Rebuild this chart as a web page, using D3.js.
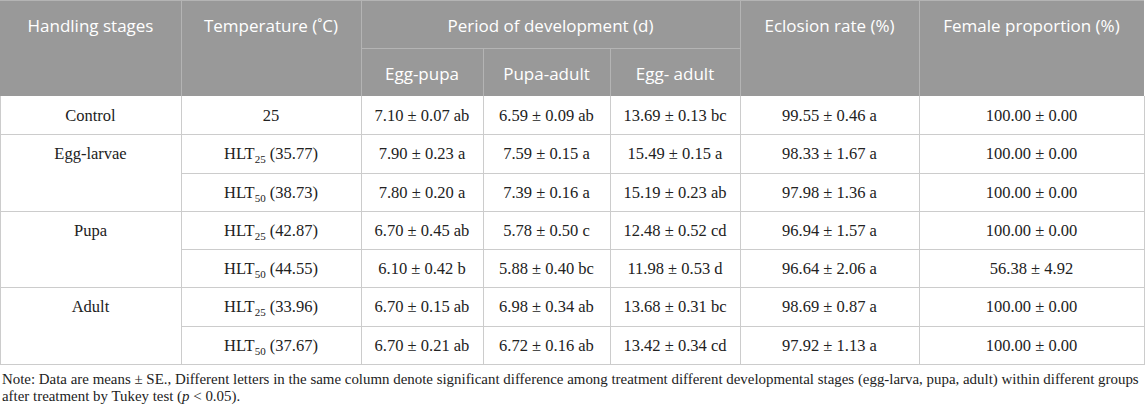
<!DOCTYPE html>
<html>
<head>
<meta charset="utf-8">
<script src="https://cdn.jsdelivr.net/npm/d3@7"></script>
<style>
  body { margin: 0; background: #fff; }
  svg { display: block; }
</style>
</head>
<body>
<div id="tbl"></div>
<script>

// table data
var stages = ['Control', 'Egg-larvae', 'Pupa', 'Adult'];
var stageRows = [1, 2, 2, 2];
var tempLevel = [null, '25', '50', '25', '50', '25', '50'];
var tempValue = [25, 35.77, 38.73, 42.87, 44.55, 33.96, 37.67];

var eggPupaMean = [7.10, 7.90, 7.80, 6.70, 6.10, 6.70, 6.70];
var eggPupaSE = [0.07, 0.23, 0.20, 0.45, 0.42, 0.15, 0.21];
var eggPupaLetter = ['ab', 'a', 'a', 'ab', 'b', 'ab', 'ab'];

var pupaAdultMean = [6.59, 7.59, 7.39, 5.78, 5.88, 6.98, 6.72];
var pupaAdultSE = [0.09, 0.15, 0.16, 0.50, 0.40, 0.34, 0.16];
var pupaAdultLetter = ['ab', 'a', 'a', 'c', 'bc', 'ab', 'ab'];

var eggAdultMean = [13.69, 15.49, 15.19, 12.48, 11.98, 13.68, 13.42];
var eggAdultSE = [0.13, 0.15, 0.23, 0.52, 0.53, 0.31, 0.34];
var eggAdultLetter = ['bc', 'a', 'ab', 'cd', 'd', 'bc', 'cd'];

var eclosionMean = [99.55, 98.33, 97.98, 96.94, 96.64, 98.69, 97.92];
var eclosionSE = [0.46, 1.67, 1.36, 1.57, 2.06, 0.87, 1.13];
var eclosionLetter = ['a', 'a', 'a', 'a', 'a', 'a', 'a'];

var femaleMean = [100.00, 100.00, 100.00, 100.00, 56.38, 100.00, 100.00];
var femaleSE = [0.00, 0.00, 0.00, 0.00, 4.92, 0.00, 0.00];

var headLabels = ['Handling stages', 'Temperature (\u02DAC)', 'Period of development (d)', 'Eclosion rate (%)', 'Female proportion (%)'];
var subLabels = ['Egg-pupa', 'Pupa-adult', 'Egg- adult'];

var noteLines = [
	'Note: Data are means \u00B1 SE., Different letters in the same column denote significant difference among treatment different developmental stages (egg-larva, pupa, adult) within different groups',
	'after treatment by Tukey test (|p| < 0.05).'
];

var width = 1145;
var height = 411;
var colEdges = [0, 181, 361, 483, 610, 740, 919, 1144];
var headTop = 0, headMid = 48, headBottom = 96, bodyBottom = 364;
var headFill = '#999999';
var headLine = '#b4b4b4';
var bodyLine = '#cccccc';

var svg = d3.select('#tbl').append('svg')
	.attr('width', width)
	.attr('height', height);

var y = d3.scaleBand().domain(d3.range(tempValue.length)).range([headBottom, bodyBottom]);

function cx(i) { return (colEdges[i] + colEdges[i + 1]) / 2; }

// header background
svg.append('rect')
	.attr('x', colEdges[0]).attr('y', headTop)
	.attr('width', colEdges[7] - colEdges[0]).attr('height', headBottom - headTop)
	.style('fill', headFill);

// header lines
var hv = [1, 2, 5, 6];
hv.forEach(function(c) {
	svg.append('line')
		.attr('x1', colEdges[c] + 0.5).attr('x2', colEdges[c] + 0.5)
		.attr('y1', headTop).attr('y2', headBottom)
		.style('stroke', headLine);
});
[3, 4].forEach(function(c) {
	svg.append('line')
		.attr('x1', colEdges[c] + 0.5).attr('x2', colEdges[c] + 0.5)
		.attr('y1', headMid).attr('y2', headBottom)
		.style('stroke', headLine);
});
svg.append('line')
	.attr('x1', colEdges[2]).attr('x2', colEdges[5])
	.attr('y1', headMid + 0.5).attr('y2', headMid + 0.5)
	.style('stroke', headLine);
svg.append('line')
	.attr('x1', 0).attr('x2', colEdges[7])
	.attr('y1', headTop + 0.5).attr('y2', headTop + 0.5)
	.style('stroke', headLine);

// header text
var headFont = '"Open Sans", "Noto Sans", sans-serif';
var headX = [cx(0), cx(1), (colEdges[2] + colEdges[5]) / 2, cx(5), cx(6)];
svg.selectAll('.head').data(headLabels).enter().append('text')
	.attr('class', 'head')
	.attr('x', function(d, i) { return headX[i]; })
	.attr('y', headTop + 32)
	.style('text-anchor', 'middle')
	.style('font-family', headFont)
	.style('font-size', '17px')
	.style('fill', '#fff')
	.text(function(d) { return d; });

svg.selectAll('.sub').data(subLabels).enter().append('text')
	.attr('class', 'sub')
	.attr('x', function(d, i) { return cx(i + 2); })
	.attr('y', headMid + 31.5)
	.style('text-anchor', 'middle')
	.style('font-family', headFont)
	.style('font-size', '17px')
	.style('fill', '#fff')
	.text(function(d) { return d; });

// body grid
var body = svg.append('g');
var starts = [];
var acc = 0;
stageRows.forEach(function(n) { starts.push(acc); acc += n; });

// horizontal lines, column 0 only at group edges
for (var r = 1; r < tempValue.length; r++) {
	var yy = Math.round(y(r)) + 0.5;
	var x0 = starts.indexOf(r) >= 0 ? colEdges[0] : colEdges[1];
	body.append('line')
		.attr('x1', x0).attr('x2', colEdges[7])
		.attr('y1', yy).attr('y2', yy)
		.style('stroke', bodyLine);
}
body.append('line')
	.attr('x1', 0).attr('x2', colEdges[7])
	.attr('y1', bodyBottom + 0.5).attr('y2', bodyBottom + 0.5)
	.style('stroke', bodyLine);

for (var c = 0; c < colEdges.length; c++) {
	body.append('line')
		.attr('x1', colEdges[c] + 0.5).attr('x2', colEdges[c] + 0.5)
		.attr('y1', headBottom).attr('y2', bodyBottom + 1)
		.style('stroke', bodyLine);
}

var serif = '"Liberation Serif", "Times New Roman", serif';

function cellText(x, r) {
	return body.append('text')
		.attr('x', x)
		.attr('y', y(r) + 25)
		.style('text-anchor', 'middle')
		.style('font-family', serif)
		.style('font-size', '16.5px')
		.style('fill', '#222');
}

function fmt(m, s, l) {
	return m.toFixed(2) + ' \u00B1 ' + s.toFixed(2) + (l ? ' ' + l : '');
}

// stage names
stages.forEach(function(s, i) {
	cellText(cx(0), starts[i]).text(s);
});

// temperature
tempValue.forEach(function(v, i) {
	var t = cellText(cx(1), i);
	if (tempLevel[i] == null) {
		t.text(v);
	} else {
		t.append('tspan').text('HLT');
		t.append('tspan').attr('dy', 4).style('font-size', '11px').text(tempLevel[i]);
		t.append('tspan').attr('dy', -4).text(' (' + v.toFixed(2) + ')');
	}
});

var cols = [
	[eggPupaMean, eggPupaSE, eggPupaLetter],
	[pupaAdultMean, pupaAdultSE, pupaAdultLetter],
	[eggAdultMean, eggAdultSE, eggAdultLetter],
	[eclosionMean, eclosionSE, eclosionLetter],
	[femaleMean, femaleSE, null]
];
cols.forEach(function(col, k) {
	col[0].forEach(function(m, i) {
		cellText(cx(k + 2), i).text(fmt(m, col[1][i], col[2] ? col[2][i] : null));
	});
});

// note, font size fitted so the first line spans the table width
var noteY = [384, 401];
var noteText = [];
noteLines.forEach(function(line, i) {
	var t = svg.append('text')
		.attr('x', 2)
		.attr('y', noteY[i])
		.style('font-family', serif)
		.style('font-size', '15px')
		.style('fill', '#222');
	var parts = line.split('|');
	if (parts.length == 1) {
		t.text(line);
	} else {
		parts.forEach(function(part, j) {
			t.append('tspan').style('font-style', j % 2 ? 'italic' : 'normal').text(part);
		});
	}
	noteText.push(t);
});
var len = noteText[0].node().getComputedTextLength();
var fs = Math.min(15, 15 * 1138 / len);
noteText.forEach(function(t) { t.style('font-size', fs + 'px'); });

</script>
</body>
</html>
